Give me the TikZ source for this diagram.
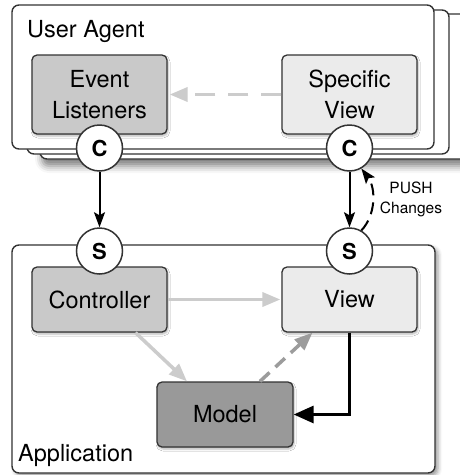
\documentclass[tikz,border=0pt]{standalone}
\usepackage{fontspec}
\setmainfont{TeX Gyre Heros}
\usetikzlibrary{arrows.meta,shadows.blur,calc}
\definecolor{boxline}{HTML}{333333}
\definecolor{midfill}{HTML}{C9C9C9}
\definecolor{lightfill}{HTML}{EBEBEB}
\definecolor{darkfill}{HTML}{999999}
\definecolor{lgarrow}{HTML}{CCCCCC}
\definecolor{mgarrow}{HTML}{9C9C9C}
\tikzset{
  frame/.style={draw=boxline, line width=1.4pt, rounded corners=7pt, fill=white},
  stackshadow/.style={blur shadow={shadow xshift=2pt, shadow yshift=-7pt, shadow blur radius=7pt, shadow opacity=50}},
  compbox/.style={draw=boxline, line width=1.3pt, rounded corners=5pt, minimum width=135pt,
     align=center, font=\fontsize{23.5}{31}\selectfont, inner sep=0pt,
     blur shadow={shadow xshift=1pt, shadow yshift=-2pt, shadow blur radius=2pt, shadow opacity=30}},
  port/.style={circle, draw=boxline, line width=1.5pt, fill=white, minimum size=46pt, inner sep=0pt,
     font=\fontsize{22}{22}\selectfont\bfseries},
  blk/.style={draw=black, line width=2pt, -{Stealth[length=15pt,width=11pt,inset=3pt]}},
  lgline/.style={draw=lgarrow, line width=3.5pt, -{Triangle[length=18pt,width=14pt]}},
  mgline/.style={draw=mgarrow, line width=3.5pt, dash pattern=on 13pt off 8pt, -{Triangle[length=18pt,width=14pt]}},
  lbl/.style={font=\fontsize{23.5}{28}\selectfont, inner sep=0pt},
}
\begin{document}
\begin{tikzpicture}[x=1pt,y=-1pt]
\useasboundingbox (0,0) rectangle (460,475);
% user agent stack
\draw[frame, stackshadow] (40,14) rectangle (470,159);
\draw[frame] (27,10) rectangle (449,154);
\draw[frame] (12,5) rectangle (434,149);
\node[lbl, anchor=base west] (ua) at (27,37) {User Agent};
% application
\draw[frame, blur shadow={shadow xshift=3pt, shadow yshift=-3pt, shadow blur radius=4pt, shadow opacity=40}] (12,245) rectangle (435,473);
\node[lbl, anchor=base west] (app) at (18,461) {Application};
% components
\node[compbox, fill=midfill, minimum height=79pt] (ev) at (99.5,94.5) {Event\\Listeners};
\node[compbox, fill=lightfill, minimum height=79pt] (sv) at (349.5,94.5) {Specific\\View};
\node[compbox, fill=midfill, minimum height=65pt] (ctl) at (99.5,299.5) {Controller};
\node[compbox, fill=lightfill, minimum height=65pt] (view) at (349.5,299.5) {View};
\node[compbox, fill=darkfill, minimum width=136pt, minimum height=65pt] (model) at (225,414.5) {Model};
% ports
\node[port] (c1) at (99.5,148) {C};
\node[port] (c2) at (349.5,148) {C};
\node[port] (s1) at (99.5,251) {S};
\node[port] (s2) at (349.5,251) {S};
% connectors
\draw[lgline, dash pattern=on 20pt off 13pt, shorten >=2pt] (sv.west) -- (ev.east);
\draw[blk] (c1.south) -- (s1.north);
\draw[blk] (c2.south) -- (s2.north);
\draw[draw=black, line width=2pt, dash pattern=on 12pt off 7pt, -{Stealth[length=15pt,width=11pt,inset=3pt]}]
  (s2.60) .. controls (376,215) and (376,188) .. (c2.-60);
\node[font=\fontsize{15.5}{19.5}\selectfont, align=center, inner sep=0pt] (push) at (411,199.5) {PUSH\\Changes};
\draw[lgline, shorten >=1pt] (ctl.east) -- (view.west);
\draw[lgline] ([xshift=36pt]ctl.south) -- ([xshift=-38pt]model.north);
\draw[mgline] ([xshift=35pt]model.north) -- ([xshift=-37pt]view.south);
\draw[draw=black, line width=3pt, -{Triangle[length=20pt,width=17pt]}] (view.south) |- (model.east);
\end{tikzpicture}
\end{document}
